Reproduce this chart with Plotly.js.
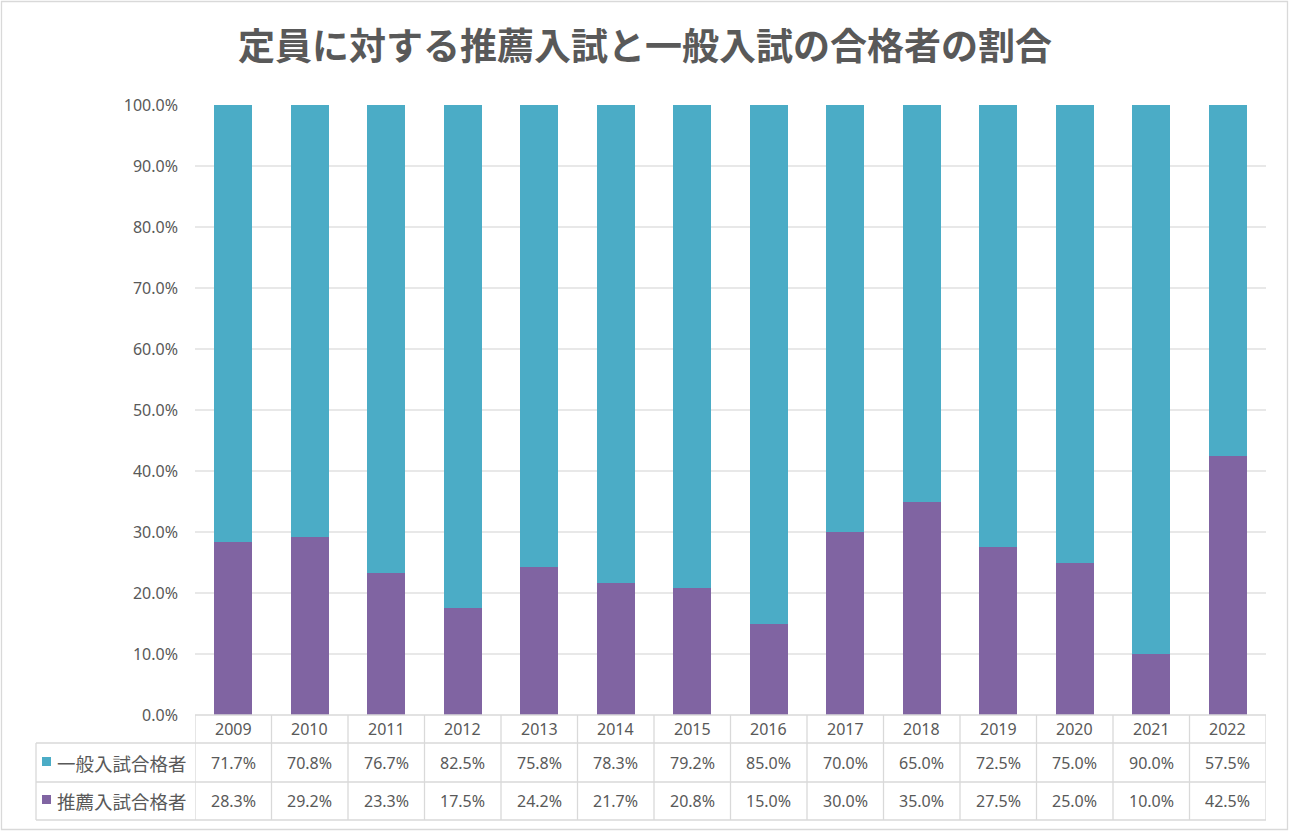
<!DOCTYPE html>
<html><head><meta charset="utf-8">
<script src="https://cdn.plot.ly/plotly-3.0.1.min.js"></script>
<style>body{margin:0;padding:0;background:#fff}#chart{width:1290px;height:832px}</style>
</head><body><div id="chart"></div>
<script>
const years = ['2009','2010','2011','2012','2013','2014','2015','2016','2017','2018','2019','2020','2021','2022'];
const generalPct = [71.7,70.8,76.7,82.5,75.8,78.3,79.2,85.0,70.0,65.0,72.5,75.0,90.0,57.5];
const recommendPct = [28.3,29.2,23.3,17.5,24.2,21.7,20.8,15.0,30.0,35.0,27.5,25.0,10.0,42.5];
const seriesNames = ['一般入試合格者','推薦入試合格者'];
const titleText = '定員に対する推薦入試と一般入試の合格者の割合';

const colGeneral = '#4BACC6', colRec = '#8064A2';
const fontFam = '"Noto Sans", "Noto Sans CJK JP", sans-serif';
const cjkFam = '"Noto Sans CJK JP", sans-serif';
const txtCol = '#595959';
const lineCol = '#D9D9D9';

const W = 1290, H = 832, L = 195, R = 1266, T = 105, B = 715;
const px = v => (v - L) / (R - L);
const py = v => (B - v) / (B - T);

const traces = [
  {type:'bar', x: years, y: recommendPct, name: seriesNames[1], marker:{color: colRec}, hoverinfo:'y'},
  {type:'bar', x: years, y: generalPct, name: seriesNames[0], marker:{color: colGeneral}, hoverinfo:'y'}
];

const rowY = [py(715), py(743), py(782), py(820)];
const shapes = [];
const ann = [];
shapes.push({type:'line', xref:'paper', yref:'paper', x0:0, x1:1, y0:rowY[0], y1:rowY[0], line:{color:lineCol, width:1.3}});
for (let k = 1; k < 4; k++) {
  shapes.push({type:'line', xref:'paper', yref:'paper', x0:px(36), x1:1, y0:rowY[k], y1:rowY[k], line:{color:lineCol, width:1.3}});
}
for (let i = 0; i <= years.length; i++) {
  shapes.push({type:'line', xref:'x', yref:'paper', x0:i-0.5, x1:i-0.5, y0:rowY[0], y1:rowY[3], line:{color:lineCol, width:1.3}});
}
shapes.push({type:'line', xref:'paper', yref:'paper', x0:px(36), x1:px(36), y0:rowY[1], y1:rowY[3], line:{color:lineCol, width:1.3}});
shapes.push({type:'rect', xref:'paper', yref:'paper', x0:px(1.5), x1:px(1287.5), y0:py(1.5), y1:py(829.5), line:{color:lineCol, width:1.3}});
shapes.push({type:'rect', xref:'paper', yref:'paper', x0:px(42), x1:px(51), y0:py(766), y1:py(757), fillcolor:colGeneral, line:{width:0}});
shapes.push({type:'rect', xref:'paper', yref:'paper', x0:px(42), x1:px(51), y0:py(804), y1:py(795), fillcolor:colRec, line:{width:0}});

const midY = k => (rowY[k] + rowY[k+1]) / 2;
years.forEach((yr, i) => {
  ann.push({xref:'x', yref:'paper', x:i, y:midY(0), yanchor:'middle', text:yr, showarrow:false, font:{size:16, color:txtCol, family:fontFam}});
  ann.push({xref:'x', yref:'paper', x:i, y:midY(1), yanchor:'middle', text:generalPct[i].toFixed(1)+'%', showarrow:false, font:{size:16, color:txtCol, family:fontFam}});
  ann.push({xref:'x', yref:'paper', x:i, y:midY(2), yanchor:'middle', text:recommendPct[i].toFixed(1)+'%', showarrow:false, font:{size:16, color:txtCol, family:fontFam}});
});
ann.push({xref:'paper', yref:'paper', x:px(55), y:midY(1), xanchor:'left', yanchor:'middle', text:seriesNames[0], showarrow:false, font:{size:18.5, color:txtCol, family:cjkFam}});
ann.push({xref:'paper', yref:'paper', x:px(55), y:midY(2), xanchor:'left', yanchor:'middle', text:seriesNames[1], showarrow:false, font:{size:18.5, color:txtCol, family:cjkFam}});

const layout = {
  width: W, height: H,
  margin: {l: L, r: W - R, t: T, b: H - B, pad: 0},
  paper_bgcolor: '#fff', plot_bgcolor: '#fff',
  barmode: 'stack', bargap: 0.5, showlegend: false,
  title: {text: '<b>' + titleText + '</b>', x: 0.5, xref: 'container', xanchor: 'center', y: 1 - 47/H, yref: 'container', yanchor: 'middle', font: {size: 37, color: txtCol, family: cjkFam}},
  xaxis: {type:'category', range:[-0.5, years.length - 0.5], showticklabels:false, ticks:'', showgrid:false, zeroline:false, showline:false, fixedrange:true},
  yaxis: {range:[0, 100], dtick: 10, tickformat: '.1f', ticksuffix: '%', showgrid: true, gridcolor: '#E8E8E8', gridwidth: 1.5, zeroline: false, showline: false, ticks: '', ticklabelstandoff: 16, tickfont: {size: 16, color: txtCol, family: fontFam}, fixedrange:true},
  shapes: shapes,
  annotations: ann
};
Plotly.newPlot('chart', traces, layout, {displayModeBar: false, staticPlot: true});
</script></body></html>
